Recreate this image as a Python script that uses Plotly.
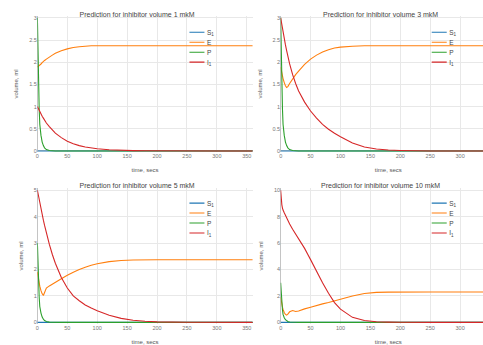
import plotly.graph_objects as go

# ---------------- data ----------------
T = [0, 1, 2, 3, 4, 6, 8, 10, 12, 15, 20, 25, 30, 40, 50, 60, 70, 80, 90, 100,
     120, 140, 160, 180, 200, 250, 300, 360]

titles = ["Prediction for inhibitor volume 1 mkM", "Prediction for inhibitor volume 3 mkM",
          "Prediction for inhibitor volume 5 mkM", "Prediction for inhibitor volume 10 mkM"]
series_names = ["S<sub>1</sub>", "E", "P", "I<sub>1</sub>"]

S1_1 = [0, 0, 0, 0, 0, 0, 0, 0, 0, 0, 0, 0, 0, 0, 0, 0, 0, 0, 0, 0, 0, 0, 0, 0, 0, 0, 0, 0]
E_1 = [1.89, 1.9, 1.91, 1.92, 1.93, 1.96, 1.99, 2.02, 2.04, 2.07, 2.12, 2.16, 2.2, 2.26, 2.3, 2.33,
       2.35, 2.36, 2.37, 2.37, 2.37, 2.37, 2.37, 2.37, 2.37, 2.37, 2.37, 2.37]
P_1 = [3.0, 2.2, 1.5, 0.95, 0.6, 0.35, 0.2, 0.12, 0.07, 0.03, 0.01, 0.004, 0, 0, 0, 0, 0, 0, 0, 0,
       0, 0, 0, 0, 0, 0, 0, 0]
I_1 = [1.0, 0.97, 0.94, 0.91, 0.89, 0.83, 0.78, 0.74, 0.69, 0.63, 0.55, 0.47, 0.4, 0.3, 0.22, 0.16,
       0.12, 0.09, 0.065, 0.048, 0.026, 0.014, 0.008, 0.004, 0.002, 0, 0, 0]

S1_2 = [0, 0, 0, 0, 0, 0, 0, 0, 0, 0, 0, 0, 0, 0, 0, 0, 0, 0, 0, 0, 0, 0, 0, 0, 0, 0, 0, 0]
E_2 = [1.89, 1.82, 1.75, 1.69, 1.63, 1.54, 1.47, 1.43, 1.45, 1.52, 1.62, 1.72, 1.8, 1.95, 2.07, 2.16,
       2.23, 2.28, 2.32, 2.34, 2.36, 2.37, 2.37, 2.37, 2.37, 2.37, 2.37, 2.37]
P_2 = [3.0, 2.2, 1.5, 0.95, 0.6, 0.35, 0.2, 0.12, 0.07, 0.03, 0.01, 0.004, 0, 0, 0, 0, 0, 0, 0, 0,
       0, 0, 0, 0, 0, 0, 0, 0]
I_2 = [3.0, 2.92, 2.84, 2.76, 2.68, 2.53, 2.39, 2.26, 2.13, 1.96, 1.72, 1.52, 1.35, 1.1, 0.9, 0.74,
       0.6, 0.49, 0.4, 0.32, 0.18, 0.09, 0.045, 0.02, 0.01, 0, 0, 0]

S1_3 = [0, 0, 0, 0, 0, 0, 0, 0, 0, 0, 0, 0, 0, 0, 0, 0, 0, 0, 0, 0, 0, 0, 0, 0, 0, 0, 0, 0]
E_3 = [1.9, 1.75, 1.6, 1.48, 1.37, 1.2, 1.08, 1.02, 1.12, 1.3, 1.38, 1.45, 1.52, 1.65, 1.78, 1.9,
       2.0, 2.09, 2.16, 2.22, 2.3, 2.34, 2.36, 2.37, 2.37, 2.37, 2.37, 2.37]
P_3 = [3.0, 2.2, 1.5, 0.95, 0.6, 0.35, 0.2, 0.12, 0.07, 0.03, 0.01, 0.004, 0, 0, 0, 0, 0, 0, 0, 0,
       0, 0, 0, 0, 0, 0, 0, 0]
I_3 = [5.0, 4.88, 4.76, 4.64, 4.52, 4.3, 4.08, 3.87, 3.67, 3.38, 2.95, 2.57, 2.24, 1.7, 1.3, 1.0,
       0.82, 0.66, 0.54, 0.44, 0.27, 0.15, 0.08, 0.04, 0.02, 0.003, 0, 0]

S1_4 = [0, 0, 0, 0, 0, 0, 0, 0, 0, 0, 0, 0, 0, 0, 0, 0, 0, 0, 0, 0, 0, 0, 0, 0, 0, 0, 0, 0]
E_4 = [1.9, 1.6, 1.35, 1.15, 0.98, 0.75, 0.6, 0.55, 0.62, 0.8, 0.9, 0.82, 0.86, 1.02, 1.15, 1.28,
       1.4, 1.5, 1.62, 1.75, 2.0, 2.18, 2.27, 2.29, 2.3, 2.3, 2.3, 2.3]
P_4 = [3.0, 2.2, 1.5, 0.95, 0.6, 0.35, 0.2, 0.12, 0.07, 0.03, 0.01, 0.004, 0, 0, 0, 0, 0, 0, 0, 0,
       0, 0, 0, 0, 0, 0, 0, 0]
I_4 = [10.0, 9.3, 8.9, 8.65, 8.5, 8.3, 8.1, 7.9, 7.7, 7.45, 7.05, 6.7, 6.35, 5.6, 4.75, 3.85,
       3.0, 2.2, 1.5, 1.0, 0.38, 0.14, 0.05, 0.02, 0.005, 0, 0, 0]

x_ticks_left = [0, 50, 100, 150, 200, 250, 300, 350]
x_ticks_right = [0, 50, 100, 150, 200, 250, 300]
y_dticks = [0.5, 0.5, 1, 2]
y_ranges = [[-0.03, 3.05], [-0.03, 3.05], [-0.05, 5.08], [-0.1, 10.16]]

panels = [(S1_1, E_1, P_1, I_1), (S1_2, E_2, P_2, I_2), (S1_3, E_3, P_3, I_3), (S1_4, E_4, P_4, I_4)]
colors = ["#1f77b4", "#ff7f0e", "#2ca02c", "#d62728"]

# ---------------- layout (drawn at 2x, scaled to 0.5 in the page) ----------------
W, H = 1000, 700
FONT = 'Arial, "Liberation Sans", sans-serif'
x_domains = [[0.072, 0.504], [0.56, 0.992], [0.072, 0.504], [0.56, 0.992]]
y_domains = [[0.5647, 0.9579], [0.5647, 0.9579], [0.0714, 0.4614], [0.0714, 0.4614]]
title_pos = [(0.272, 0.963), (0.76, 0.963), (0.272, 0.4686), (0.76, 0.4686)]
legend_pos = [(0.372, 1 - 48 / H), (0.858, 1 - 48 / H), (0.372, 1 - 392 / H), (0.858, 1 - 392 / H)]

fig = go.Figure()
layout = dict(
    width=W, height=H,
    margin=dict(l=0, r=0, t=0, b=0),
    paper_bgcolor="white", plot_bgcolor="white",
    font=dict(family=FONT, size=12, color="#444"),
    annotations=[],
)

for i, data in enumerate(panels):
    n = "" if i == 0 else str(i + 1)
    lg = "legend" if i == 0 else "legend" + str(i + 1)
    for name, vals, col in zip(series_names, data, colors):
        fig.add_trace(go.Scatter(
            x=T, y=vals, mode="lines", name=name,
            line=dict(color=col, width=2.2),
            xaxis="x" + n, yaxis="y" + n, legend=lg, showlegend=True,
        ))
    layout["xaxis" + n] = dict(
        domain=x_domains[i], anchor="y" + n, range=[0, 360],
        tickvals=x_ticks_left if i % 2 == 0 else x_ticks_right,
        showgrid=True, gridcolor="#E8E8E8", gridwidth=1.5,
        zeroline=True, zerolinecolor="#C4C4C4", zerolinewidth=2,
        showline=False, ticks="",
        tickfont=dict(size=11, color="#777"),
        title=dict(text="time, secs", font=dict(size=12, color="#555"), standoff=18),
    )
    layout["yaxis" + n] = dict(
        domain=y_domains[i], anchor="x" + n, range=y_ranges[i],
        dtick=y_dticks[i], tick0=0, showgrid=True, gridcolor="#E8E8E8", gridwidth=1.5,
        zeroline=True, zerolinecolor="#C4C4C4", zerolinewidth=2,
        showline=False, ticks="",
        tickfont=dict(size=11, color="#777"),
        title=dict(text="volume, ml", font=dict(size=12, color="#555"), standoff=18),
    )
    layout[lg] = dict(
        x=legend_pos[i][0], y=legend_pos[i][1], xanchor="left", yanchor="top",
        bgcolor="rgba(0,0,0,0)", font=dict(size=13, color="#444", family=FONT),
        tracegroupgap=0,
    )
    layout["annotations"].append(dict(
        text=titles[i], x=title_pos[i][0], y=title_pos[i][1], xref="paper", yref="paper",
        xanchor="center", yanchor="middle", showarrow=False,
        font=dict(size=14, color="#444", family=FONT),
    ))

fig.update_layout(**layout)

post = ("var d=document.getElementById('{plot_id}');"
        "d.style.transformOrigin='0 0';d.style.transform='scale(0.5)';"
        "document.documentElement.style.overflow='hidden';"
        "document.body.style.overflow='hidden';document.body.style.margin='0';")

fig.write_html("out.html", config={"displayModeBar": False}, post_script=post)
